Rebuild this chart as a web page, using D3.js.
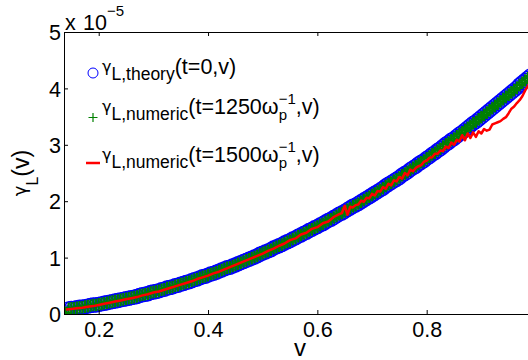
<!DOCTYPE html>
<html>
<head>
<meta charset="utf-8">
<script src="https://cdn.jsdelivr.net/npm/d3@7"></script>
<style>
  html, body { margin: 0; padding: 0; background: #fff; }
  svg { display: block; }
  text { font-family: "Liberation Sans", Arial, Helvetica, sans-serif; fill: #000; }
</style>
</head>
<body>
<svg id="chart" width="528" height="360"></svg>
<script>
// ---------------- DATA (units of 1e-5) ----------------
const xTicks = [0.2, 0.4, 0.6, 0.8];
const yTicks = [0, 1, 2, 3, 4, 5];
const yTickLabels = ["0", "1", "2", "3", "4", "5"];

// velocity grid of the theory / t=1250 curves (0.140 … 0.990, step 0.005)
const vGrid = d3.range(171).map(i => +(0.14 + i * 0.005).toFixed(3));

// gamma_L theory (t=0)
const gammaTheory = [
  0.02,0.09,0.10,0.10,0.11,0.12,0.12,0.13,0.14,0.15,
  0.16,0.16,0.17,0.18,0.19,0.20,0.21,0.22,0.23,0.24,
  0.25,0.26,0.27,0.28,0.29,0.30,0.31,0.33,0.34,0.35,
  0.36,0.38,0.39,0.40,0.41,0.43,0.44,0.46,0.47,0.48,
  0.50,0.51,0.53,0.54,0.56,0.57,0.59,0.61,0.62,0.64,
  0.66,0.67,0.69,0.71,0.72,0.74,0.76,0.78,0.80,0.82,
  0.83,0.85,0.87,0.89,0.91,0.93,0.95,0.97,0.99,1.01,
  1.03,1.06,1.08,1.10,1.12,1.14,1.17,1.19,1.21,1.23,
  1.26,1.28,1.30,1.33,1.35,1.38,1.40,1.43,1.45,1.48,
  1.50,1.53,1.55,1.58,1.60,1.63,1.66,1.68,1.71,1.74,
  1.77,1.79,1.82,1.85,1.88,1.91,1.93,1.96,1.99,2.02,
  2.05,2.08,2.11,2.14,2.17,2.20,2.23,2.27,2.30,2.33,
  2.36,2.39,2.42,2.46,2.49,2.52,2.56,2.59,2.62,2.66,
  2.69,2.72,2.76,2.79,2.83,2.86,2.90,2.93,2.97,3.01,
  3.04,3.08,3.11,3.15,3.19,3.22,3.26,3.30,3.34,3.38,
  3.41,3.45,3.49,3.53,3.57,3.61,3.65,3.69,3.73,3.77,
  3.81,3.85,3.89,3.93,3.97,4.01,4.06,4.10,4.14,4.18,
  4.22
];

// gamma_L numeric at t=1250/omega_p : coincides with the theory curve in the picture
const gammaNum1250 = gammaTheory;

// velocity grid of the t=1500 curve
const vRed = d3.range(50).map(i => +(0.14 + i * 0.01).toFixed(3))
  .concat(d3.range(71).map(i => +(0.64 + i * 0.005).toFixed(3)));

// gamma_L numeric at t=1500/omega_p
const gammaNum1500 = [
  0.08,0.09,0.10,0.11,0.13,0.14,0.16,0.18,0.20,0.22,
  0.24,0.26,0.28,0.30,0.33,0.35,0.38,0.40,0.43,0.46,
  0.49,0.52,0.55,0.58,0.62,0.65,0.68,0.72,0.75,0.79,
  0.83,0.87,0.91,0.95,0.99,1.03,1.07,1.12,1.16,1.21,
  1.25,1.31,1.34,1.41,1.44,1.51,1.54,1.61,1.64,1.72,
  1.77,1.79,1.92,1.76,1.90,1.89,1.93,1.94,2.01,1.99,
  2.06,2.05,2.13,2.10,2.18,2.17,2.25,2.22,2.31,2.28,
  2.37,2.35,2.43,2.40,2.50,2.46,2.56,2.53,2.59,2.62,
  2.64,2.70,2.72,2.77,2.78,2.84,2.84,2.90,2.89,2.97,
  2.94,3.04,3.00,3.09,3.06,3.17,3.08,3.20,3.12,3.22,
  3.14,3.24,3.20,3.28,3.25,3.27,3.36,3.38,3.40,3.42,
  3.46,3.49,3.56,3.64,3.68,3.74,3.79,3.86,3.96,4.04,
  4.12
];

// ---------------- LAYOUT ----------------
const svg = d3.select("#chart");
const L = 64, T = 32, B = 314, R = 536;
const x = d3.scaleLinear().domain([0.1365, 1.0]).range([L, R]);
const y = d3.scaleLinear().domain([0, 5]).range([B, T]);
const FS = 21.5;

svg.append("defs").append("clipPath").attr("id", "clip")
  .append("rect").attr("x", L).attr("y", T).attr("width", R - L).attr("height", B - T);

const plot = svg.append("g").attr("clip-path", "url(#clip)");

// theory: blue circles
const theory = vGrid.map((v, i) => ({ v, g: gammaTheory[i] }));
plot.append("g").selectAll("circle").data(theory).join("circle")
  .attr("cx", d => x(d.v)).attr("cy", d => y(d.g)).attr("r", 7)
  .attr("fill", "none").attr("stroke", "#0000ff").attr("stroke-width", 1.4);

// numeric t=1250: green pluses
const num1 = vGrid.map((v, i) => ({ v, g: gammaNum1250[i] }));
const plusSize = 6.3;
plot.append("g").selectAll("path").data(num1).join("path")
  .attr("d", d => {
    const cx = x(d.v), cy = y(d.g);
    return `M${cx - plusSize},${cy}H${cx + plusSize}M${cx},${cy - plusSize}V${cy + plusSize}`;
  })
  .attr("fill", "none").attr("stroke", "#008000").attr("stroke-width", 2.2);

// numeric t=1500: red line
const num2 = vRed.map((v, i) => ({ v, g: gammaNum1500[i] }));
plot.append("path").datum(num2)
  .attr("d", d3.line().x(d => x(d.v)).y(d => y(d.g)))
  .attr("fill", "none").attr("stroke", "#ff0000").attr("stroke-width", 2.5)
  .attr("stroke-linejoin", "round");

// ---------------- AXES ----------------
const axB = svg.append("g").attr("transform", `translate(0,${B})`)
  .call(d3.axisBottom(x).tickValues(xTicks).tickFormat(d3.format(".1f"))
    .tickSize(-4).tickSizeOuter(0).tickPadding(8));
const axT = svg.append("g").attr("transform", `translate(0,${T})`)
  .call(d3.axisTop(x).tickValues(xTicks).tickFormat("").tickSize(-4).tickSizeOuter(0));
const axLft = svg.append("g").attr("transform", `translate(${L},0)`)
  .call(d3.axisLeft(y).tickValues(yTicks).tickFormat((d, i) => yTickLabels[i])
    .tickSize(-4).tickSizeOuter(0).tickPadding(3));
const axR = svg.append("g").attr("transform", `translate(${R},0)`)
  .call(d3.axisRight(y).tickValues(yTicks).tickFormat("").tickSize(-4).tickSizeOuter(0));
[axB, axT, axLft, axR].forEach(a => {
  a.selectAll("path.domain").attr("stroke", "#000").attr("stroke-width", 1);
  a.selectAll(".tick line").attr("stroke", "#000");
  a.selectAll("text").style("font-size", FS + "px")
    .style("font-family", '"Liberation Sans", Arial, sans-serif').attr("fill", "#000");
});
axLft.selectAll("text").attr("dy", "0.36em");

// ---------------- RICH TEXT HELPER ----------------
function rich(g, x0, y0, parts) {
  let cur = x0, prevStart = x0;
  parts.forEach(p => {
    const sx = p.stack ? prevStart : cur;
    const t = g.append("text").attr("x", sx).attr("y", y0 + (p.dy || 0))
      .style("font-size", p.size + "px").text(p.t);
    if (p.family) t.style("font-family", p.family);
    const w = t.node().getComputedTextLength();
    if (p.stack) { cur = Math.max(cur, sx + w); }
    else { prevStart = sx; cur = sx + w; }
  });
  return cur - x0;
}

// exponent label "x 10^-5"
svg.append("text").attr("x", 65).attr("y", 30).style("font-size", FS + "px").text("x");
svg.append("text").attr("x", 83).attr("y", 30).style("font-size", FS + "px").text("10");
svg.append("text").attr("x", 107).attr("y", 16).style("font-size", "15px").text("−5");

// axis labels
svg.append("text").attr("x", 300).attr("y", 356).attr("text-anchor", "middle")
  .style("font-size", "24px").text("v");

const GF = '"DejaVu Sans", sans-serif';
const yl = svg.append("g");
const ylInner = yl.append("g");
const ylw = rich(ylInner, 0, 0, [
  { t: "γ", size: 18, dy: -3, family: GF },
  { t: "L", size: 16, dy: 9 },
  { t: " (v)", size: 23 }
]);
ylInner.attr("transform", `translate(${-ylw / 2},0)`);
yl.attr("transform", "translate(29,173) rotate(-90)");

// ---------------- LEGEND ----------------
const lg = svg.append("g");
lg.append("circle").attr("cx", 93).attr("cy", 73).attr("r", 5)
  .attr("fill", "none").attr("stroke", "#0000ff").attr("stroke-width", 1);
rich(lg, 102, 73.5, [
  { t: "γ", size: 16, dy: -2, family: GF },
  { t: "L,theory", size: 17.5, dy: 6 },
  { t: "(t=0,v)", size: FS }
]);

lg.append("path").attr("d", "M88.5,117.5H97.5M93,113V122")
  .attr("stroke", "#008000").attr("stroke-width", 1.2).attr("fill", "none");
rich(lg, 102, 113.5, [
  { t: "γ", size: 16, dy: -2, family: GF },
  { t: "L,numeric", size: 17.5, dy: 6 },
  { t: "(t=1250ω", size: FS },
  { t: "p", size: 15, dy: 6 },
  { t: "−1", size: 15, dy: -10, stack: true },
  { t: ",v)", size: FS }
]);

lg.append("line").attr("x1", 86).attr("x2", 100).attr("y1", 163).attr("y2", 163)
  .attr("stroke", "#ff0000").attr("stroke-width", 2.5);
rich(lg, 102, 162, [
  { t: "γ", size: 16, dy: -2, family: GF },
  { t: "L,numeric", size: 17.5, dy: 6 },
  { t: "(t=1500ω", size: FS },
  { t: "p", size: 15, dy: 6 },
  { t: "−1", size: 15, dy: -10, stack: true },
  { t: ",v)", size: FS }
]);
</script>
</body>
</html>
